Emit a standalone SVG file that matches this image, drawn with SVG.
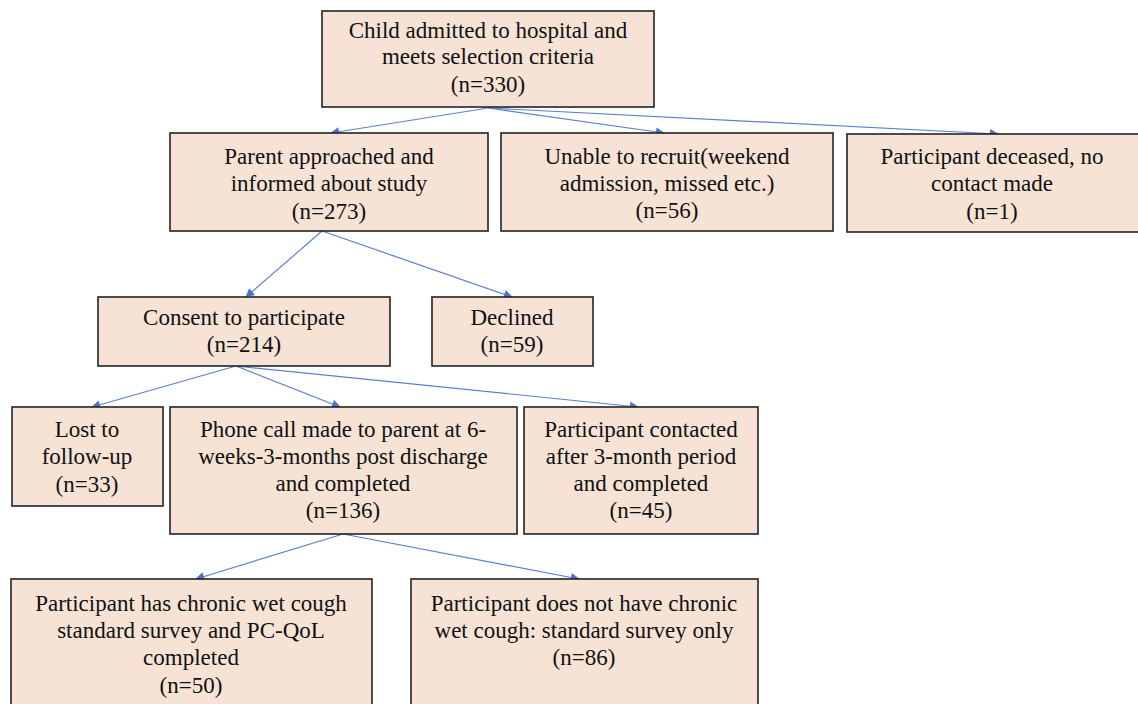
<svg xmlns="http://www.w3.org/2000/svg" width="1138" height="704" viewBox="0 0 1138 704">
<style>
.box{fill:#F6E3D5;stroke:#222;stroke-width:1.6}
text{font-family:'Liberation Serif','DejaVu Serif',serif;font-size:23px;fill:#111;text-anchor:middle}
.c{stroke:#5B80D2;stroke-width:1.2;fill:none;marker-end:url(#ah)}
</style>
<defs>
<marker id="ah" viewBox="0 0 10 10" refX="9" refY="5" markerWidth="10" markerHeight="9" markerUnits="userSpaceOnUse" orient="auto">
<path d="M0,0 L10,5 L0,10 z" fill="#4A74CC"/>
</marker>
</defs>
<rect width="1138" height="704" fill="#fff"/>
<g id="connectors">
<line class="c" x1="488" y1="108" x2="331" y2="133"/>
<line class="c" x1="488" y1="108" x2="664" y2="133"/>
<line class="c" x1="488" y1="108" x2="998" y2="134"/>
<line class="c" x1="322" y1="231" x2="246" y2="297"/>
<line class="c" x1="322" y1="231" x2="512" y2="297"/>
<line class="c" x1="236" y1="366" x2="92" y2="407"/>
<line class="c" x1="236" y1="366" x2="340" y2="407"/>
<line class="c" x1="236" y1="366" x2="638" y2="407"/>
<line class="c" x1="343" y1="534" x2="196" y2="579"/>
<line class="c" x1="343" y1="534" x2="579" y2="579"/>
</g>
<g id="n1"><rect class="box" x="322" y="11" width="332" height="96"/>
<text x="488" y="38">Child admitted to hospital and</text><text x="488" y="64">meets selection criteria</text><text x="488" y="92">(n=330)</text></g>
<g id="n2"><rect class="box" x="170" y="133" width="318" height="98"/>
<text x="329" y="164">Parent approached and</text><text x="329" y="191">informed about study</text><text x="329" y="219">(n=273)</text></g>
<g id="n3"><rect class="box" x="501" y="133" width="332" height="98"/>
<text x="667" y="164">Unable to recruit(weekend</text><text x="667" y="191">admission, missed etc.)</text><text x="667" y="218">(n=56)</text></g>
<g id="n4"><rect class="box" x="847" y="134" width="300" height="98"/>
<text x="992" y="164">Participant deceased, no</text><text x="992" y="191">contact made</text><text x="992" y="219">(n=1)</text></g>
<g id="n5"><rect class="box" x="98" y="297" width="292" height="69"/>
<text x="244" y="325">Consent to participate</text><text x="244" y="352">(n=214)</text></g>
<g id="n6"><rect class="box" x="432" y="297" width="161" height="69"/>
<text x="512" y="325">Declined</text><text x="512" y="352">(n=59)</text></g>
<g id="n7"><rect class="box" x="12" y="407" width="151" height="99"/>
<text x="87" y="437">Lost to</text><text x="87" y="464">follow-up</text><text x="87" y="492">(n=33)</text></g>
<g id="n8"><rect class="box" x="170" y="407" width="347" height="127"/>
<text x="343" y="437">Phone call made to parent at 6-</text><text x="343" y="464">weeks-3-months post discharge</text><text x="343" y="491">and completed</text><text x="343" y="518">(n=136)</text></g>
<g id="n9"><rect class="box" x="524" y="407" width="234" height="127"/>
<text x="641" y="437">Participant contacted</text><text x="641" y="464">after 3-month period</text><text x="641" y="491">and completed</text><text x="641" y="518">(n=45)</text></g>
<g id="n10"><rect class="box" x="11" y="579" width="361" height="140"/>
<text x="191" y="611">Participant has chronic wet cough</text><text x="191" y="638">standard survey and PC-QoL</text><text x="191" y="665">completed</text><text x="191" y="693">(n=50)</text></g>
<g id="n11"><rect class="box" x="411" y="579" width="347" height="140"/>
<text x="584" y="611">Participant does not have chronic</text><text x="584" y="638">wet cough: standard survey only</text><text x="584" y="665">(n=86)</text></g>
</svg>
